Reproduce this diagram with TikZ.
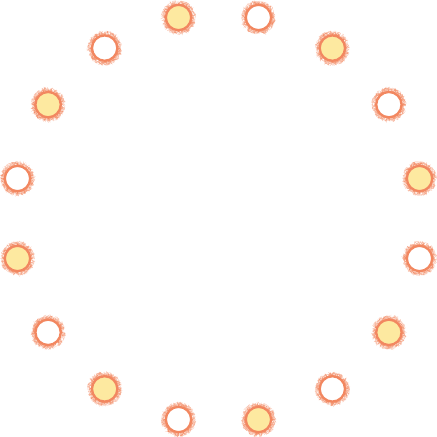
\documentclass[tikz,border=0pt]{standalone}
\usepackage{tikz}
\usetikzlibrary{decorations.pathmorphing}
\definecolor{ember}{HTML}{F07A4E}
\definecolor{straw}{HTML}{FDE9A0}

\tikzset{
  fuzz/.style={draw=ember, line width=0.2pt, opacity=0.4,
    decorate, decoration={random steps, segment length=0.5pt, amplitude=2.2pt}},
  halo/.style={circle, minimum size=0.64cm, inner sep=0pt,
    postaction={fuzz}, postaction={fuzz}, postaction={fuzz},
    postaction={fuzz}, postaction={fuzz}},
  bead/.style={circle, minimum size=0.58cm, inner sep=0pt, draw=ember!90, line width=1.5pt},
  fullbead/.style={bead, fill=straw},
  emptybead/.style={bead, fill=white}
}

\begin{document}
\begin{tikzpicture}
        \useasboundingbox (-5,-5) rectangle (5,5);
        % ring of sixteen beads, yellow and white in turn
        \foreach \i in {0,...,15}{
          \pgfmathsetmacro{\ang}{101.25-22.5*\i}
          \node[halo] (h\i) at (\ang:4.69) {};
          \ifodd\i
            \node[emptybead] (b\i) at (h\i) {};
          \else
            \node[fullbead] (b\i) at (h\i) {};
          \fi
        }
      \end{tikzpicture}
\end{document}
